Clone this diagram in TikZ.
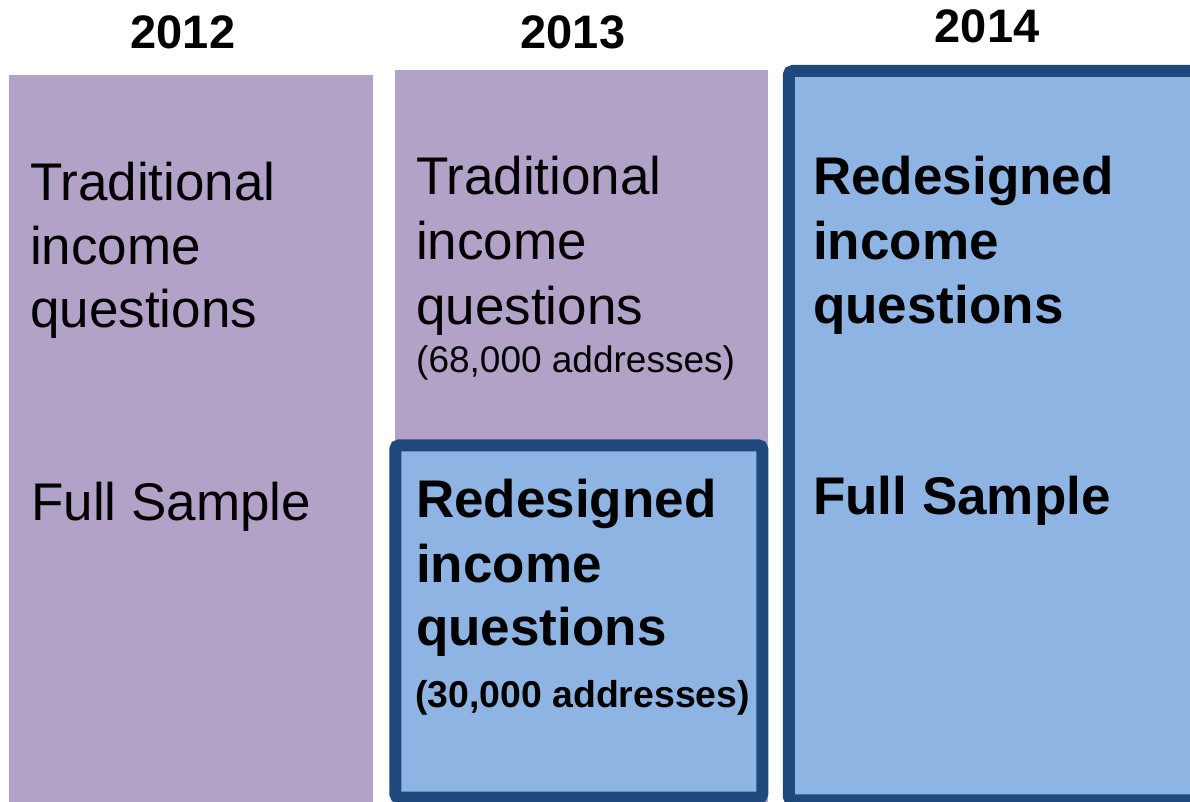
\documentclass[tikz,border=0pt]{standalone}
\usepackage{fontspec}
\setmainfont{Liberation Sans}
\definecolor{lilac}{HTML}{B3A2C7}
\definecolor{skyfill}{HTML}{8EB4E3}
\definecolor{navyline}{HTML}{1F497D}
\begin{document}
\begin{tikzpicture}[x=1pt,y=-1pt,
  yearlbl/.style={anchor=base,inner sep=0pt,font=\fontsize{47}{56}\selectfont\bfseries},
  bodytxt/.style={anchor=base west,inner sep=0pt,font=\fontsize{53}{63}\selectfont},
  boldtxt/.style={anchor=base west,inner sep=0pt,font=\fontsize{53}{63}\selectfont\bfseries},
  smalltxt/.style={anchor=base west,inner sep=0pt,font=\fontsize{37}{44}\selectfont},
  smallbold/.style={anchor=base west,inner sep=0pt,font=\fontsize{37.4}{44}\selectfont\bfseries},
  redbox/.style={draw=navyline,fill=skyfill,line width=12pt,rounded corners=4pt}]
\useasboundingbox (0,0) rectangle (1190,802);
\fill[white] (0,0) rectangle (1190,802);
% purple columns
\fill[lilac] (9,75) rectangle (373,802);
\fill[lilac] (395,70) rectangle (768,802);
% blue boxes
\draw[redbox] (395.3,445.3) rectangle (762.3,797.7);
\draw[redbox] (788.8,71) rectangle (1230,800.3);
% years
\node[yearlbl] (y12) at (183,49) {2012};
\node[yearlbl] (y13) at (573,49) {2013};
\node[yearlbl] (y14) at (987,43) {2014};
% 2012
\node[bodytxt] (a1) at (30,201) {Traditional};
\node[bodytxt] (a2) at (30,264) {income};
\node[bodytxt] (a3) at (30,327) {questions};
\node[bodytxt] (a4) at (31,520) {Full Sample};
% 2013 traditional
\node[bodytxt] (b1) at (416,195) {Traditional};
\node[bodytxt] (b2) at (416,259) {income};
\node[bodytxt] (b3) at (416,324) {questions};
\node[smalltxt] (b4) at (416,372) {(68,000 addresses)};
% 2013 redesigned
\node[boldtxt] (c1) at (416,517) {Redesigned};
\node[boldtxt] (c2) at (416,582) {income};
\node[boldtxt] (c3) at (416,645) {questions};
\node[smallbold] (c4) at (415,707) {(30,000 addresses)};
% 2014
\node[boldtxt] (d1) at (813,195) {Redesigned};
\node[boldtxt] (d2) at (813,259) {income};
\node[boldtxt] (d3) at (813,323) {questions};
\node[boldtxt] (d4) at (813,514) {Full Sample};
\end{tikzpicture}
\end{document}
